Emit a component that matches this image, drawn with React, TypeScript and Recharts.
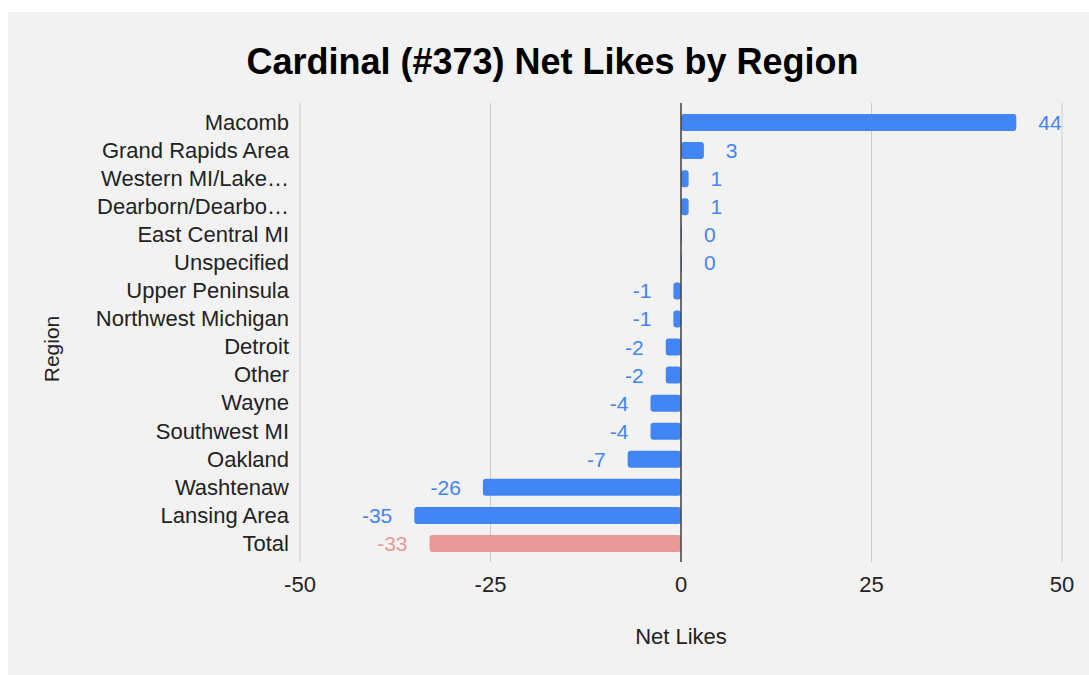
import React from 'react';
import { BarChart, Bar, XAxis, YAxis, CartesianGrid, ReferenceLine, LabelList, Cell } from 'recharts';

// Regions as listed in the chart (top to bottom)
const regions = [
  'Macomb',
  'Grand Rapids Area',
  'Western MI/Lake…',
  'Dearborn/Dearbo…',
  'East Central MI',
  'Unspecified',
  'Upper Peninsula',
  'Northwest Michigan',
  'Detroit',
  'Other',
  'Wayne',
  'Southwest MI',
  'Oakland',
  'Washtenaw',
  'Lansing Area',
  'Total',
];

const netLikes = [44, 3, 1, 1, 0, 0, -1, -1, -2, -2, -4, -4, -7, -26, -35, -33];

const xTicks = [-50, -25, 0, 25, 50];

const data = regions.map((region, i) => ({ region, netLikes: netLikes[i] }));

const BLUE = '#4285f4';
const SALMON = '#ea9999';
const FONT = 'Arial, "Liberation Sans", sans-serif';

const barColor = (region: string) => (region === 'Total' ? SALMON : BLUE);

const ValueLabel = (props: any) => {
  const { x, y, width, height, value, index } = props;
  const end = Number(x) + Number(width);
  const positive = Number(value) >= 0;
  return (
    <text
      x={positive ? end + 22 : end - 22}
      y={Number(y) + Number(height) / 2}
      textAnchor={positive ? 'start' : 'end'}
      dominantBaseline="central"
      fontSize={21}
      fontFamily={FONT}
      fill={barColor(regions[index])}
    >
      {value}
    </text>
  );
};

const App = () => {
  return (
    <div
      style={{
        position: 'absolute',
        left: 8,
        top: 12,
        width: 1081,
        height: 663,
        background: '#f2f2f2',
        fontFamily: FONT,
      }}
    >
      <div
        style={{
          position: 'absolute',
          top: 30,
          left: 4,
          width: 1081,
          textAlign: 'center',
          fontSize: 36,
          lineHeight: '40px',
          fontWeight: 'bold',
          color: '#000',
        }}
      >
        Cardinal (#373) Net Likes by Region
      </div>
      <div
        style={{
          position: 'absolute',
          left: 44,
          top: 337,
          transform: 'translate(-50%, -50%) rotate(-90deg)',
          fontSize: 21,
          color: '#222',
          whiteSpace: 'nowrap',
        }}
      >
        Region
      </div>
      <BarChart
        layout="vertical"
        width={1081}
        height={663}
        data={data}
        margin={{ top: 91, right: 27, bottom: 23, left: 42 }}
        barSize={17}
      >
        <CartesianGrid horizontal={false} stroke="#cccccc" />
        <XAxis
          type="number"
          domain={[-50, 50]}
          ticks={xTicks}
          axisLine={false}
          tickLine={false}
          tickMargin={8}
          height={90}
          tick={{ fontSize: 22, fill: '#222', fontFamily: FONT }}
          label={{
            value: 'Net Likes',
            position: 'insideBottom',
            offset: 8,
            fontSize: 22,
            fill: '#222',
            fontFamily: FONT,
          }}
        />
        <YAxis
          type="category"
          dataKey="region"
          width={250}
          axisLine={false}
          tickLine={false}
          tickMargin={5}
          padding={{ top: 5, bottom: 5 }}
          interval={0}
          tick={{ fontSize: 22, fill: '#222', fontFamily: FONT }}
        />
        <Bar dataKey="netLikes" radius={3} minPointSize={1} isAnimationActive={false}>
          {data.map((d) => (
            <Cell key={d.region} fill={barColor(d.region)} />
          ))}
          <LabelList dataKey="netLikes" content={ValueLabel} />
        </Bar>
        <ReferenceLine x={0} stroke="#444" strokeWidth={1.5} />
      </BarChart>
    </div>
  );
};

export default App;
